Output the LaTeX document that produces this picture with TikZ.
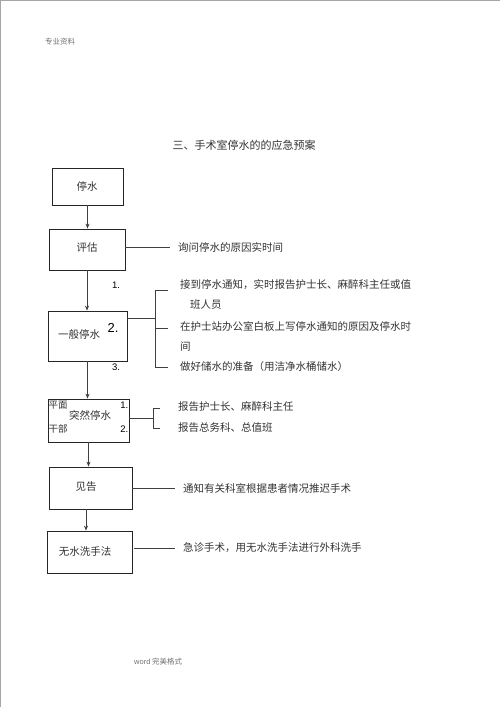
\documentclass[tikz,border=0pt]{standalone}
\usepackage{fontspec}
\setmainfont{Liberation Sans}
\newfontfamily\cjk{Noto Sans CJK SC}
\usetikzlibrary{arrows.meta}
\begin{document}
\begin{tikzpicture}[x=1bp,y=-1bp,
  box/.style={draw=black!85, line width=0.8bp, inner sep=0},
  lbl/.style={inner sep=0, anchor=west, font=\cjk\fontsize{10.5bp}{12bp}\selectfont, text=black!80},
  ctr/.style={inner sep=0, font=\cjk\fontsize{10.5bp}{12bp}\selectfont, text=black!80},
  num/.style={inner sep=0, font=\fontsize{9.5bp}{11bp}\selectfont, text=black},
  small/.style={inner sep=0, anchor=west, font=\cjk\fontsize{7.5bp}{9bp}\selectfont, text=black!55},
  ln/.style={draw=black!75, line width=0.7bp},
  arr/.style={ln, -{Stealth[length=5bp,width=4bp]}}]

\useasboundingbox (0,0) rectangle (500,707);
\fill[white] (0,0) rectangle (500,707);
\draw[black!35, line width=1bp] (0.5,707) -- (0.5,0.5) -- (500,0.5);

% header / footer / title
\node[small] (hdr) at (45,42) {专业资料};
\node[small] (ftr) at (134,662) {{\rmfamily word} 完美格式};
\node[ctr, font=\cjk\fontsize{11bp}{13bp}\selectfont] (title) at (244,145) {三、手术室停水的的应急预案};

% boxes
\node[box, minimum width=71bp, minimum height=37bp] (ts) at (87.5,186.5) {};
\node[ctr] (tst) at (87,186.5) {停水};
\node[box, minimum width=76bp, minimum height=41bp] (pg) at (87,249.5) {};
\node[ctr] (pgt) at (87,248) {评估};
\node[box, minimum width=79bp, minimum height=50bp] (yb) at (87.5,336) {};
\node[ctr] (ybt) at (79,334) {一般停水};
\node[box, minimum width=81bp, minimum height=43bp] (tr) at (88.5,420.5) {};
\node[ctr] (trt) at (90,415) {突然停水};
\node[box, minimum width=83bp, minimum height=42bp] (jg) at (90.5,488) {};
\node[ctr] (jgt) at (86,487) {见告};
\node[box, minimum width=85bp, minimum height=42bp] (wsx) at (89.5,552) {};
\node[ctr] (wsxt) at (85,552) {无水洗手法};

% small labels
\node[num] (n1) at (116,285) {1.};
\node[num, font=\fontsize{13bp}{15bp}\selectfont] (n2) at (113,328) {2.};
\node[num] (n3) at (116,367) {3.};
\node[ctr, anchor=west, font=\cjk\fontsize{9.5bp}{11bp}\selectfont] (pm) at (48.5,405) {平面};
\node[ctr, anchor=west, font=\cjk\fontsize{9.5bp}{11bp}\selectfont] (gb) at (48.5,429) {干部};
\node[num, anchor=east] (m1) at (128.5,405) {1.};
\node[num, anchor=east] (m2) at (128.5,429) {2.};

% arrows
\draw[arr] (ts.south) -- (ts.south |- pg.north);
\draw[arr] (pg.south) -- (pg.south |- yb.north);
\draw[arr] (yb.south) -- (yb.south |- tr.north);
\draw[arr] (tr.south) -- (tr.south |- jg.north);
\draw[arr] (jgt |- jg.south) -- (jgt |- wsx.north);

% right texts
\node[lbl] (q1) at (178,247) {询问停水的原因实时间};
\node[lbl] (t1) at (180,285) {接到停水通知，实时报告护士长、麻醉科主任或值};
\node[lbl] (t2) at (190,305) {班人员};
\node[lbl] (t3) at (180,326) {在护士站办公室白板上写停水通知的原因及停水时};
\node[lbl] (t4) at (180,347) {间};
\node[lbl] (t5) at (180,367) {做好储水的准备（用洁净水桶储水）};
\node[lbl] (s1) at (178,407) {报告护士长、麻醉科主任};
\node[lbl] (s2) at (178,428) {报告总务科、总值班};
\node[lbl] (r1) at (183,488) {通知有关科室根据患者情况推迟手术};
\node[lbl] (r2) at (183,548) {急诊手术，用无水洗手法进行外科洗手};

% connectors
\draw[ln] (pg.east |- q1.west) -- ([xshift=-8bp]q1.west);
\coordinate (bk) at (155,318);
\coordinate (bkt) at (155,290);
\coordinate (bkm) at (155,328);
\coordinate (bkb) at (155,367);
\draw[ln] (yb.east |- bk) -- (bk);
\draw[ln] ([xshift=13bp]bkt) -- (bkt) -- (bkb) -- ([xshift=13bp]bkb);
\draw[ln] (bkm) -- ([xshift=13bp]bkm);
\coordinate (ck) at (153,418);
\coordinate (ckt) at (153,408);
\coordinate (ckb) at (153,428);
\draw[ln] (tr.east |- ck) -- (ck);
\draw[ln] ([xshift=7bp]ckt) -- (ckt) -- (ckb) -- ([xshift=7bp]ckb);
\draw[ln] (jg.east |- r1.west) -- ([xshift=-8bp]r1.west);
\draw[ln] ([xshift=2bp]wsx.east |- r2.west) -- ([xshift=-8bp]r2.west);
\end{tikzpicture}
\end{document}
